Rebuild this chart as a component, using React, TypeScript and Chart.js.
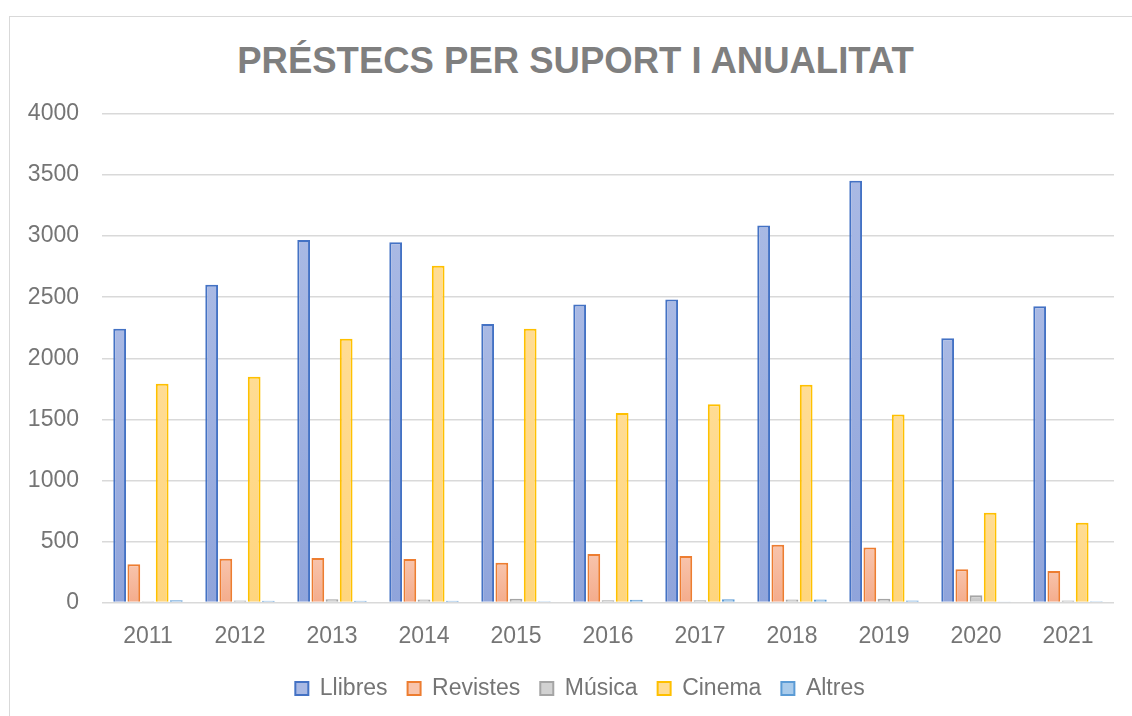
import React, { useEffect, useRef } from "react";
import { Chart, registerables } from "chart.js";

Chart.register(...registerables);

const years = ["2011", "2012", "2013", "2014", "2015", "2016", "2017", "2018", "2019", "2020", "2021"];
const llibres = [2241, 2601, 2969, 2949, 2280, 2441, 2482, 3087, 3454, 2163, 2425];
const revistes = [313, 358, 364, 356, 326, 398, 380, 473, 450, 272, 258];
const musica = [10, 16, 27, 25, 30, 19, 19, 25, 30, 60, 16];
const cinema = [1791, 1849, 2160, 2757, 2241, 1551, 1624, 1783, 1540, 734, 652];
const altres = [19, 14, 14, 14, 10, 22, 27, 25, 16, 3, 11];

const seriesNames = ["Llibres", "Revistes", "Música", "Cinema", "Altres"];
const TITLE = "PRÉSTECS PER SUPORT I ANUALITAT";

const borders = ["#4472C4", "#ED7D31", "#A5A5A5", "#FFC000", "#5B9BD5"];
const fillTop = ["#A9B9E4", "#F8C4AC", "#D2D2D2", "#FFDC94", "#A9CBEB"];
const fillBottom = ["#8FA4DB", "#F4AC8C", "#C4C4C4", "#FFD57E", "#93BDE4"];

const FONT = "'Liberation Sans', Arial, sans-serif";
const TEXT_GRAY = "#757575";

function gradientFill(i: number) {
  return (ctx: any) => {
    const chart = ctx.chart;
    if (!chart.chartArea || ctx.type !== "data") return fillTop[i];
    const ys = chart.scales.y;
    const top = ys.getPixelForValue(ctx.raw);
    const base = ys.getPixelForValue(0);
    if (!isFinite(top) || Math.abs(base - top) < 1) return fillBottom[i];
    const g = chart.ctx.createLinearGradient(0, top, 0, base);
    g.addColorStop(0, fillTop[i]);
    g.addColorStop(1, fillBottom[i]);
    return g;
  };
}

const legendShift = {
  id: "legendShift",
  afterLayout(chart: any) {
    const lg = chart.legend;
    if (lg) {
      lg.left += 23;
      lg.right += 23;
    }
  },
};

export default function App() {
  const ref = useRef<HTMLCanvasElement | null>(null);

  useEffect(() => {
    if (!ref.current) return;
    const allData = [llibres, revistes, musica, cinema, altres];
    const chart = new Chart(ref.current, {
      type: "bar",
      data: {
        labels: years,
        datasets: seriesNames.map((name, i) => ({
          label: name,
          data: allData[i],
          backgroundColor: gradientFill(i),
          borderColor: borders[i],
          borderWidth: 2,
          borderSkipped: "bottom",
          categoryPercentage: 0.77,
          barPercentage: 0.9,
        })),
      },
      plugins: [legendShift],
      options: {
        responsive: false,
        animation: false,
        layout: { padding: { left: 0, right: 18, top: 114, bottom: 6 } },
        plugins: {
          title: { display: false },
          legend: {
            position: "bottom",
            labels: {
              color: TEXT_GRAY,
              font: { family: FONT, size: 23 },
              boxWidth: 13,
              boxHeight: 13,
              padding: 20,
              generateLabels: (c: any) =>
                c.data.datasets.map((d: any, i: number) => ({
                  text: d.label,
                  fillStyle: fillTop[i],
                  strokeStyle: borders[i],
                  lineWidth: 2,
                  fontColor: TEXT_GRAY,
                  hidden: false,
                  datasetIndex: i,
                })),
            },
          },
          tooltip: { enabled: false },
        },
        scales: {
          x: {
            grid: { display: false, drawTicks: false },
            border: { display: false },
            afterFit: (s: any) => {
              s.height = 54.5;
            },
            ticks: {
              color: TEXT_GRAY,
              font: { family: FONT, size: 23 },
              padding: 20,
            },
          },
          y: {
            min: 0,
            max: 4000,
            afterFit: (s: any) => {
              s.width = 102;
            },
            ticks: {
              stepSize: 500,
              color: TEXT_GRAY,
              font: { family: FONT, size: 23 },
              padding: 23,
              callback: (v: any) => String(v),
            },
            grid: { color: "#D9D9D9", lineWidth: 1.5, drawTicks: false },
            border: { display: false },
          },
        },
      },
    });
    return () => chart.destroy();
  }, []);

  return (
    <div
      style={{
        position: "absolute",
        left: 0,
        top: 0,
        width: 1132,
        height: 716,
        overflow: "hidden",
        background: "#fff",
      }}
    >
      <div
        style={{
          position: "absolute",
          left: 9,
          top: 16,
          width: 1300,
          height: 900,
          borderLeft: "1px solid #D9D9D9",
          borderTop: "1px solid #D9D9D9",
        }}
      />
      <div
        style={{
          position: "absolute",
          left: 375.5,
          top: 42.5,
          width: 400,
          display: "flex",
          justifyContent: "center",
          whiteSpace: "nowrap",
          fontFamily: FONT,
          fontWeight: "bold",
          fontSize: "36.5px",
          lineHeight: "36.5px",
          color: "#7F7F7F",
        }}
      >
        <span>{TITLE}</span>
      </div>
      <canvas
        ref={ref}
        width={1132}
        height={716}
        style={{ position: "absolute", left: 0, top: 0, width: 1132, height: 716 }}
      />
    </div>
  );
}
